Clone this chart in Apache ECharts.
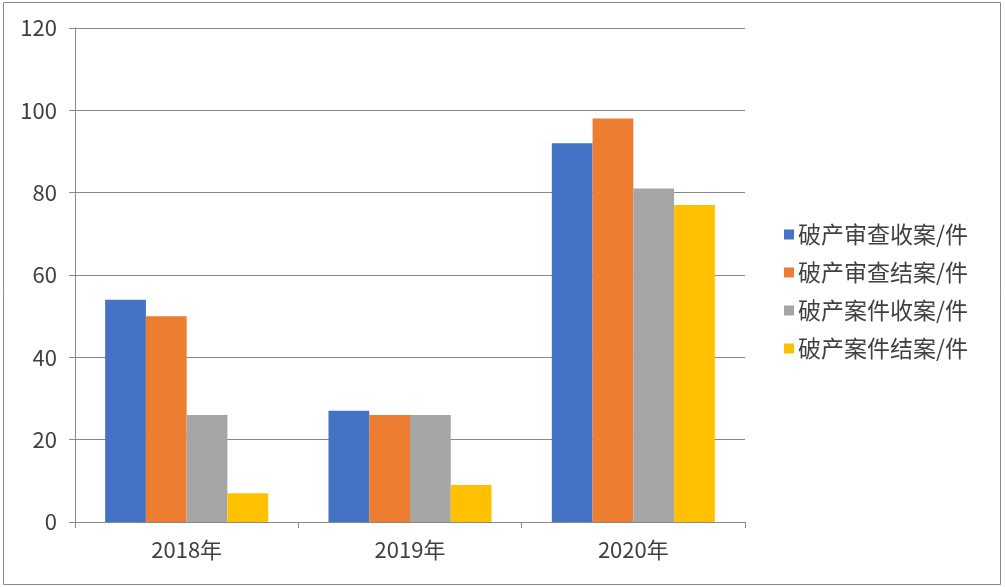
<!DOCTYPE html>
<html lang="zh">
<head>
    <meta charset="UTF-8">
    <title>破产案件情况</title>
    <script src="https://cdn.jsdelivr.net/npm/echarts@6/dist/echarts.min.js"></script>
    <style>
        *{ padding:0; margin:0; }
        #chart{ width:1005px; height:587px; background:#fff; }
    </style>
</head>
<body>
<div id="chart"></div>
<script type="text/javascript">
    var years = ['2018年', '2019年', '2020年'];
    var seriesNames = ['破产审查收案/件', '破产审查结案/件', '破产案件收案/件', '破产案件结案/件'];
    var scReceive = [54, 27, 92];
    var scClose = [50, 26, 98];
    var ajReceive = [26, 26, 81];
    var ajClose = [7, 9, 77];
    var colors = ['#4472C4', '#ED7D31', '#A5A5A5', '#FFC000'];

    var values = [scReceive, scClose, ajReceive, ajClose];
    var font = '"Noto Sans CJK SC", "Noto Sans", sans-serif';

    var series = [];
    for (var i = 0; i < values.length; i++) {
        series.push({
            name: seriesNames[i],
            type: 'bar',
            data: values[i],
            barGap: '0%',
            barCategoryGap: '27%',
            itemStyle: { color: colors[i] }
        });
    }

    var myChart = echarts.init(document.getElementById('chart'));
    myChart.setOption({
        animation: false,
        textStyle: { fontFamily: font },
        graphic: [{
            type: 'rect',
            shape: { x: 3.5, y: 2.5, width: 997, height: 582 },
            style: { fill: 'none', stroke: '#8a8a8a', lineWidth: 1 },
            silent: true
        }],
        grid: { left: 75, right: 260, top: 28, bottom: 65 },
        legend: {
            orient: 'vertical',
            left: 779,
            top: 218,
            icon: 'rect',
            itemWidth: 10,
            itemHeight: 10,
            itemGap: 15,
            textStyle: { fontSize: 23, color: '#404040', fontFamily: font, padding: [0, 0, 0, -1] },
            data: seriesNames
        },
        xAxis: {
            type: 'category',
            data: years,
            axisLine: { lineStyle: { color: '#888' } },
            axisTick: { show: true, length: 6, lineStyle: { color: '#888' } },
            axisLabel: { fontSize: 22, color: '#404040', margin: 17, fontFamily: font }
        },
        yAxis: {
            type: 'value',
            min: 0,
            max: 120,
            interval: 20,
            axisLine: { show: true, lineStyle: { color: '#888' } },
            axisTick: { show: true, length: 6, lineStyle: { color: '#888' } },
            axisLabel: { fontSize: 22, color: '#404040', margin: 18, fontFamily: font },
            splitLine: { lineStyle: { color: '#888' } }
        },
        series: series
    });
</script>
</body>
</html>
